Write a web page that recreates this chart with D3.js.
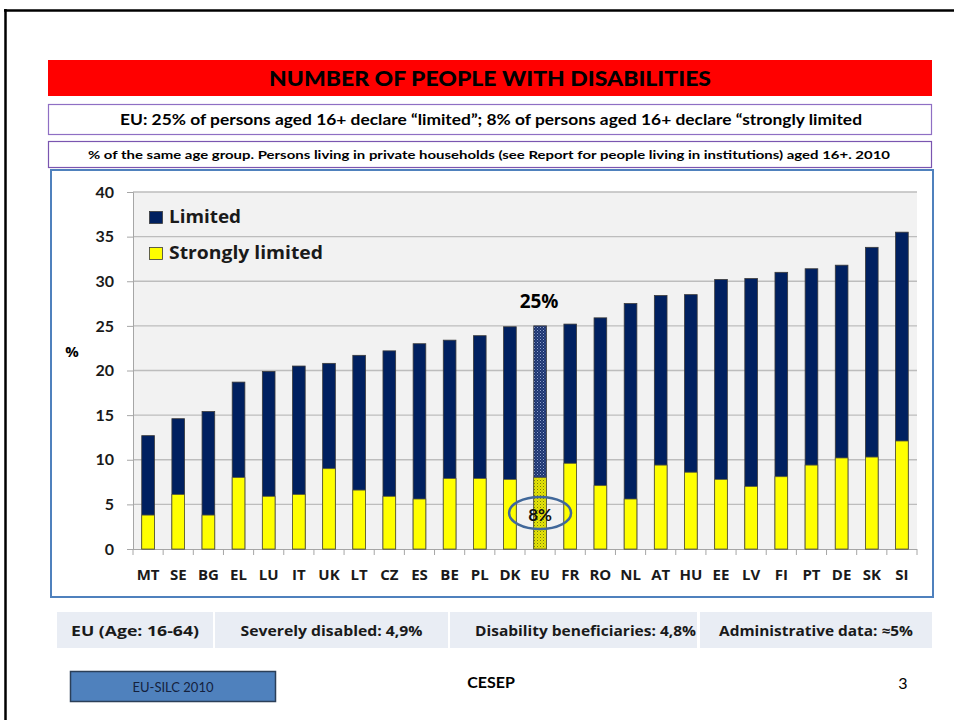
<!DOCTYPE html>
<html>
<head>
<meta charset="utf-8">
<script src="https://cdn.jsdelivr.net/npm/d3@7"></script>
<style>
  body { margin: 0; background: #fff; }
  text { font-family: Lato, "DejaVu Sans", sans-serif; }
  .os { font-family: "Open Sans", "DejaVu Sans", sans-serif; }
</style>
</head>
<body>
<div class="chart"></div>
<script>
// data
var countries = ["MT","SE","BG","EL","LU","IT","UK","LT","CZ","ES","BE","PL","DK","EU",
                 "FR","RO","NL","AT","HU","EE","LV","FI","PT","DE","SK","SI"];
var limited = [12.7,14.6,15.4,18.7,19.9,20.5,20.8,21.7,22.2,23.0,23.4,23.9,24.9,25.0,
               25.2,25.9,27.5,28.4,28.5,30.2,30.3,31.0,31.4,31.8,33.8,35.5];
var strongly = [3.8,6.1,3.8,8.0,5.9,6.1,9.0,6.6,5.9,5.6,7.9,7.9,7.8,8.0,
                9.6,7.1,5.6,9.4,8.6,7.8,7.0,8.1,9.4,10.2,10.3,12.1];
var yTicks = [0,5,10,15,20,25,30,35,40];
var bottomNotes = ["EU (Age: 16-64)", "Severely disabled: 4,9%",
                   "Disability beneficiaries: 4,8%", "Administrative data: \u22485%"];

var svgWidth = 954;
var svgHeight = 720;

var svg = d3.select(".chart")
  .append("svg")
  .attr("width", svgWidth)
  .attr("height", svgHeight);

// patterns for the EU bar
var defs = svg.append("defs");
var pNavy = defs.append("pattern").attr("id", "euNavy")
  .attr("width", 3).attr("height", 3).attr("patternUnits", "userSpaceOnUse");
pNavy.append("rect").attr("width", 3).attr("height", 3).attr("fill", "#1d3470");
pNavy.append("rect").attr("width", 1).attr("height", 1).attr("fill", "#8fa3cf");
pNavy.append("rect").attr("x", 1.5).attr("y", 1.5).attr("width", 1).attr("height", 1).attr("fill", "#5d75ad");
var pYel = defs.append("pattern").attr("id", "euYellow")
  .attr("width", 3).attr("height", 3).attr("patternUnits", "userSpaceOnUse");
pYel.append("rect").attr("width", 3).attr("height", 3).attr("fill", "#e6e600");
pYel.append("rect").attr("width", 1).attr("height", 1).attr("fill", "#7a7a10");
pYel.append("rect").attr("x", 1.5).attr("y", 1.5).attr("width", 1).attr("height", 1).attr("fill", "#a8a830");

// slide frame
svg.append("line").attr("x1", 4).attr("x2", svgWidth).attr("y1", 10.5).attr("y2", 10.5)
  .attr("stroke", "#000").attr("stroke-width", 2.5);
svg.append("line").attr("x1", 5.5).attr("x2", 5.5).attr("y1", 9).attr("y2", svgHeight)
  .attr("stroke", "#000").attr("stroke-width", 2.5);

// title bars
svg.append("rect").attr("x", 48).attr("y", 60).attr("width", 884).attr("height", 36)
  .attr("fill", "#ff0000");
svg.append("text").attr("x", 490).attr("y", 86).attr("text-anchor", "middle")
  .attr("font-size", 21).attr("font-weight", 900)
  .attr("textLength", 442).attr("lengthAdjust", "spacingAndGlyphs")
  .text("NUMBER OF PEOPLE WITH DISABILITIES");

svg.append("rect").attr("x", 48.5).attr("y", 104.5).attr("width", 883).attr("height", 30)
  .attr("fill", "#fff").attr("stroke", "#8f6fc4").attr("stroke-width", 1.2);
svg.append("text").attr("x", 491).attr("y", 125).attr("text-anchor", "middle")
  .attr("font-size", 15).attr("font-weight", "bold")
  .attr("textLength", 742).attr("lengthAdjust", "spacingAndGlyphs")
  .text("EU: 25% of persons aged 16+ declare \u201climited\u201d; 8% of persons aged 16+ declare \u201cstrongly limited");

svg.append("rect").attr("x", 48.5).attr("y", 141.5).attr("width", 883).attr("height", 26)
  .attr("fill", "#fff").attr("stroke", "#7a55b0").attr("stroke-width", 1.2);
svg.append("text").attr("x", 489).attr("y", 159).attr("text-anchor", "middle")
  .attr("font-size", 11.5).attr("font-weight", "bold")
  .attr("textLength", 802).attr("lengthAdjust", "spacingAndGlyphs")
  .text("% of the same age group. Persons living in private households (see Report for people living in institutions) aged 16+. 2010");

// chart frame
svg.append("rect").attr("x", 51).attr("y", 170).attr("width", 882).attr("height", 427)
  .attr("fill", "#fff").attr("stroke", "#4f81bd").attr("stroke-width", 2);

// scales
var xScale = d3.scaleBand()
  .domain(countries)
  .range([133, 917])
  .paddingInner(0.58)
  .paddingOuter(0.29);

var yScale = d3.scaleLinear()
  .domain([0, 40])
  .range([549, 192]);

// plot area
svg.append("rect").attr("x", 133).attr("y", yScale(40)).attr("width", 784)
  .attr("height", yScale(0) - yScale(40)).attr("fill", "#f2f2f2");

svg.append("g").selectAll("line")
  .data(yTicks.filter(d => d > 0))
  .enter().append("line")
  .attr("x1", 133).attr("x2", 917)
  .attr("y1", d => yScale(d)).attr("y2", d => yScale(d))
  .attr("stroke", "#bdbdbd").attr("stroke-width", 1.3);

// y axis
var leftAxis = d3.axisLeft(yScale).tickValues(yTicks).tickSize(6).tickPadding(13);
var yAxis = svg.append("g").attr("transform", "translate(133,0)").call(leftAxis);
yAxis.select(".domain").attr("stroke", "#a6a6a6");
yAxis.selectAll(".tick line").attr("stroke", "#a6a6a6");
yAxis.selectAll(".tick text")
  .attr("font-family", "'Open Sans', sans-serif")
  .attr("font-size", 16).attr("font-weight", "bold").attr("fill", "#1a1a1a");

svg.append("text").attr("class", "os").attr("x", 72).attr("y", 357).attr("text-anchor", "middle")
  .attr("font-size", 15).attr("font-weight", "bold").text("%");

// x axis: ticks sit between the categories
var step = xScale.step();
var xAxis = svg.append("g");
xAxis.append("line").attr("x1", 127).attr("x2", 917).attr("y1", 549.5).attr("y2", 549.5)
  .attr("stroke", "#a6a6a6");
xAxis.selectAll("line.tk")
  .data(d3.range(countries.length + 1))
  .enter().append("line")
  .attr("class", "tk")
  .attr("x1", i => 133 + i * step).attr("x2", i => 133 + i * step)
  .attr("y1", 549).attr("y2", 555)
  .attr("stroke", "#a6a6a6");
xAxis.selectAll("text")
  .data(countries)
  .enter().append("text")
  .attr("class", "os")
  .attr("x", d => xScale(d) + xScale.bandwidth() / 2)
  .attr("y", 580)
  .attr("text-anchor", "middle")
  .attr("font-size", 15).attr("font-weight", "bold").attr("fill", "#1a1a1a")
  .text(d => d);

// bars
var rows = countries.map((c, i) => ({ c: c, lim: limited[i], str: strongly[i] }));

svg.append("g").selectAll("rect")
  .data(rows)
  .enter().append("rect")
  .attr("x", d => xScale(d.c))
  .attr("y", d => yScale(d.lim))
  .attr("width", xScale.bandwidth())
  .attr("height", d => yScale(0) - yScale(d.lim))
  .attr("fill", d => d.c === "EU" ? "url(#euNavy)" : "#002060")
  .attr("stroke", "#3a3a3a").attr("stroke-width", 0.8);

svg.append("g").selectAll("rect")
  .data(rows)
  .enter().append("rect")
  .attr("x", d => xScale(d.c))
  .attr("y", d => yScale(d.str))
  .attr("width", xScale.bandwidth())
  .attr("height", d => yScale(0) - yScale(d.str))
  .attr("fill", d => d.c === "EU" ? "url(#euYellow)" : "#ffff00")
  .attr("stroke", "#5a5a3a").attr("stroke-width", 0.8);

// EU annotations
var euX = xScale("EU") + xScale.bandwidth() / 2;
svg.append("text").attr("class", "os").attr("x", euX - 1).attr("y", 308).attr("text-anchor", "middle")
  .attr("font-size", 19).attr("font-weight", "bold").text("25%");
svg.append("ellipse").attr("cx", euX).attr("cy", 513).attr("rx", 31).attr("ry", 16)
  .attr("fill", "none").attr("stroke", "#41689a").attr("stroke-width", 2.5);
svg.append("text").attr("x", euX).attr("y", 521).attr("text-anchor", "middle")
  .attr("font-size", 17).attr("font-weight", "bold").attr("fill", "#111").text("8%");

// legend
var legend = svg.append("g");
legend.append("rect").attr("x", 149.5).attr("y", 211.5).attr("width", 13).attr("height", 12)
  .attr("fill", "#002060").attr("stroke", "#3a3a3a").attr("stroke-width", 0.8);
legend.append("text").attr("class", "os").attr("x", 169).attr("y", 223)
  .attr("font-size", 17).attr("font-weight", "bold").attr("fill", "#1a1a1a")
  .attr("textLength", 72).attr("lengthAdjust", "spacingAndGlyphs").text("Limited");
legend.append("rect").attr("x", 149.5).attr("y", 247.5).attr("width", 13).attr("height", 12)
  .attr("fill", "#ffff00").attr("stroke", "#3a3a3a").attr("stroke-width", 0.8);
legend.append("text").attr("class", "os").attr("x", 169).attr("y", 259)
  .attr("font-size", 17).attr("font-weight", "bold").attr("fill", "#1a1a1a")
  .attr("textLength", 154).attr("lengthAdjust", "spacingAndGlyphs").text("Strongly limited");

// bottom notes
var noteX = [57, 215, 450, 700];
var noteW = [156, 233, 247, 232];
var noteTextW = [128, 182, 221, 194];
var notes = svg.append("g").selectAll("g")
  .data(bottomNotes)
  .enter().append("g");
notes.append("rect")
  .attr("x", (d, i) => noteX[i]).attr("y", 612)
  .attr("width", (d, i) => noteW[i]).attr("height", 36)
  .attr("fill", "#e9edf4");
notes.append("text")
  .attr("class", "os")
  .attr("x", (d, i) => noteX[i] + noteW[i] / 2 + (i === 2 ? 12 : 0)).attr("y", 636)
  .attr("text-anchor", "middle")
  .attr("font-size", 14).attr("font-weight", "bold").attr("fill", "#1a1a1a")
  .attr("textLength", (d, i) => noteTextW[i]).attr("lengthAdjust", "spacingAndGlyphs")
  .text(d => d);

// footer
svg.append("rect").attr("x", 70.5).attr("y", 671.5).attr("width", 205).attr("height", 30)
  .attr("fill", "#4f81bd").attr("stroke", "#2b3f58").attr("stroke-width", 1.5);
svg.append("text").attr("x", 173).attr("y", 692).attr("text-anchor", "middle")
  .attr("font-size", 13).attr("fill", "#14213d").text("EU-SILC 2010");
svg.append("text").attr("x", 491).attr("y", 688).attr("text-anchor", "middle")
  .attr("font-family", "'Liberation Sans', Arial, sans-serif")
  .attr("font-size", 16).attr("font-weight", "bold").text("CESEP");
svg.append("text").attr("x", 903).attr("y", 689).attr("text-anchor", "middle")
  .attr("font-family", "'Liberation Sans', Arial, sans-serif")
  .attr("font-size", 16).text("3");
</script>
</body>
</html>
